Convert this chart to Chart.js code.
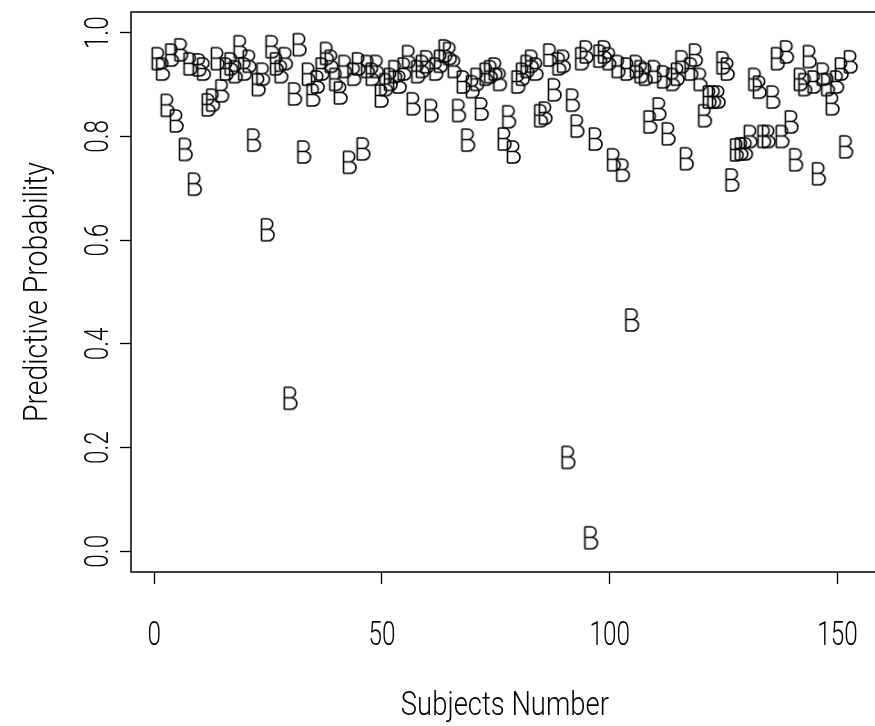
<!DOCTYPE html>
<html>
<head>
<meta charset="utf-8">
<title>Predictive Probability</title>
<script src="https://cdn.jsdelivr.net/npm/chart.js@4.4.1/dist/chart.umd.min.js"></script>
<style>
  html, body { margin: 0; padding: 0; background: #fff; }
</style>
</head>
<body>
<canvas id="probChart" width="875" height="726"></canvas>
<script type="text/javascript">
  var subjects = [
    1, 2, 3, 4, 5, 6, 7, 8, 9, 10, 11, 12, 13, 14, 15, 16, 17, 18, 19, 20,
    21, 22, 23, 24, 25, 26, 27, 28, 29, 30, 31, 32, 33, 34, 35, 36, 37, 38, 39, 40,
    41, 42, 43, 44, 45, 46, 47, 48, 49, 50, 51, 52, 53, 54, 55, 56, 57, 58, 59, 60,
    61, 62, 63, 64, 65, 66, 67, 68, 69, 70, 71, 72, 73, 74, 75, 76, 77, 78, 79, 80,
    81, 82, 83, 84, 85, 86, 87, 88, 89, 90, 91, 92, 93, 94, 95, 96, 97, 98, 99, 100,
    101, 102, 103, 104, 105, 106, 107, 108, 109, 110, 111, 112, 113, 114, 115, 116, 117, 118, 119, 120,
    121, 122, 123, 124, 125, 126, 127, 128, 129, 130, 131, 132, 133, 134, 135, 136, 137, 138, 139, 140,
    141, 142, 143, 144, 145, 146, 147, 148, 149, 150, 151, 152, 153
  ];
  var probability = [
    0.95, 0.93, 0.86, 0.957, 0.83, 0.967, 0.775, 0.94, 0.708, 0.938,
    0.93, 0.861, 0.87, 0.95, 0.888, 0.93, 0.94, 0.925, 0.973, 0.93,
    0.945, 0.793, 0.90, 0.92, 0.62, 0.973, 0.94, 0.925, 0.95, 0.295,
    0.882, 0.977, 0.77, 0.92, 0.88, 0.905, 0.93, 0.96, 0.945, 0.91,
    0.884, 0.935, 0.75, 0.92, 0.94, 0.776, 0.935, 0.92, 0.935, 0.878,
    0.90, 0.91, 0.925, 0.905, 0.93, 0.954, 0.863, 0.925, 0.935, 0.944,
    0.85, 0.93, 0.945, 0.965, 0.96, 0.935, 0.85, 0.905, 0.793, 0.896,
    0.91, 0.853, 0.92, 0.925, 0.93, 0.91, 0.795, 0.838, 0.77, 0.905,
    0.92, 0.935, 0.945, 0.93, 0.84, 0.845, 0.957, 0.89, 0.94, 0.945,
    0.181, 0.87, 0.82, 0.95, 0.963, 0.026, 0.795, 0.955, 0.963, 0.95,
    0.755, 0.935, 0.735, 0.93, 0.446, 0.935, 0.925, 0.92, 0.828, 0.925,
    0.853, 0.915, 0.805, 0.91, 0.92, 0.944, 0.757, 0.93, 0.957, 0.91,
    0.84, 0.876, 0.876, 0.876, 0.942, 0.93, 0.716, 0.774, 0.776, 0.776,
    0.80, 0.91, 0.895, 0.80, 0.80, 0.876, 0.95, 0.80, 0.963, 0.828,
    0.755, 0.91, 0.90, 0.954, 0.905, 0.728, 0.92, 0.90, 0.863, 0.905,
    0.93, 0.78, 0.944
  ];
  var xTicks = [0, 50, 100, 150];
  var yTicks = [0.0, 0.2, 0.4, 0.6, 0.8, 1.0];
  var xTitle = "Subjects Number";
  var yTitle = "Predictive Probability";

  var FONT = "Roboto, 'Liberation Sans', sans-serif";
  var X_MIN = -5.08, X_MAX = 159.08;   // R's 4% margins round 1..153

  // R style plotting character "B"
  function makeGlyph() {
    var c = document.createElement("canvas");
    c.width = 20;
    c.height = 28;
    var g = c.getContext("2d");
    g.strokeStyle = "#000";
    g.lineWidth = 1.6;
    var l = 3.5, t = 3, m = 13.5, b = 25;
    g.beginPath();
    g.moveTo(l, t);
    g.lineTo(l, b);
    g.moveTo(l, t);
    g.lineTo(l + 6, t);
    g.ellipse(l + 6, (t + m) / 2, 5.2, (m - t) / 2, 0, -Math.PI / 2, Math.PI / 2);
    g.lineTo(l, m);
    g.moveTo(l, m);
    g.lineTo(l + 6.5, m);
    g.ellipse(l + 6.5, (m + b) / 2, 6, (b - m) / 2, 0, -Math.PI / 2, Math.PI / 2);
    g.lineTo(l, b);
    g.stroke();
    return c;
  }

  // narrow text: squeeze along the writing direction
  function drawText(ctx, text, x, y, rot, size, sx) {
    ctx.save();
    ctx.translate(x, y);
    ctx.rotate(rot);
    ctx.scale(sx, 1);
    ctx.font = "300 " + size + "px " + FONT;
    ctx.textAlign = "center";
    ctx.textBaseline = "alphabetic";
    ctx.fillStyle = "#000";
    ctx.fillText(text, 0, 0);
    ctx.restore();
  }

  function squeezeFor(ctx, text, size, width) {
    ctx.save();
    ctx.font = "300 " + size + "px " + FONT;
    var w = ctx.measureText(text).width;
    ctx.restore();
    return width / w;
  }

  // box (its right side lies outside the picture) and all axis text
  var rAxesPlugin = {
    id: "rAxes",
    afterDraw: function (chart) {
      var a = chart.chartArea, ctx = chart.ctx;
      var xs = chart.scales.x, ys = chart.scales.y;

      ctx.save();
      ctx.strokeStyle = "#000";
      ctx.lineWidth = 1.5;
      ctx.beginPath();
      ctx.moveTo(chart.width + 2, a.top);
      ctx.lineTo(a.left, a.top);
      ctx.lineTo(a.left, a.bottom);
      ctx.lineTo(chart.width + 2, a.bottom);
      ctx.stroke();
      ctx.restore();

      var digitSq = squeezeFor(ctx, "0", 34, 13.5);
      xTicks.forEach(function (v) {
        drawText(ctx, String(v), xs.getPixelForValue(v), 645, 0, 34, digitSq);
      });
      yTicks.forEach(function (v) {
        drawText(ctx, v.toFixed(1), 108, ys.getPixelForValue(v), -Math.PI / 2, 34, digitSq);
      });

      drawText(ctx, xTitle, xs.getPixelForValue((X_MIN + X_MAX) / 2), 715, 0, 34,
        squeezeFor(ctx, xTitle, 34, 208));
      drawText(ctx, yTitle, 47, (a.top + a.bottom) / 2, -Math.PI / 2, 34,
        squeezeFor(ctx, yTitle, 34, 260));
    }
  };

  var chart = new Chart("probChart", {
    type: "line",
    data: {
      labels: subjects,
      datasets: [
        {
          data: probability,
          showLine: false,
          pointStyle: makeGlyph(),
          pointRadius: 10,
          borderColor: "#000",
          backgroundColor: "#000",
          clip: false
        }
      ]
    },
    options: {
      responsive: false,
      animation: false,
      events: [],
      layout: { autoPadding: false, padding: { top: 12, right: 0, left: 0, bottom: 0 } },
      plugins: {
        legend: { display: false },
        tooltip: { enabled: false }
      },
      scales: {
        x: {
          type: "linear",
          min: X_MIN,
          max: 158.26,
          afterBuildTicks: function (scale) {
            scale.ticks = xTicks.map(function (v) { return { value: v }; });
          },
          afterFit: function (scale) { scale.height = 154; },
          border: { display: false },
          grid: { drawOnChartArea: false, tickLength: 12, tickColor: "#000", tickWidth: 1.3 },
          ticks: { display: false }
        },
        y: {
          type: "linear",
          min: -0.04,
          max: 1.04,
          afterBuildTicks: function (scale) {
            scale.ticks = yTicks.map(function (v) { return { value: v }; });
          },
          afterFit: function (scale) { scale.width = 131; },
          border: { display: false },
          grid: { drawOnChartArea: false, tickLength: 11, tickColor: "#000", tickWidth: 1.3 },
          ticks: { display: false }
        }
      }
    },
    plugins: [rAxesPlugin]
  });
</script>
</body>
</html>
